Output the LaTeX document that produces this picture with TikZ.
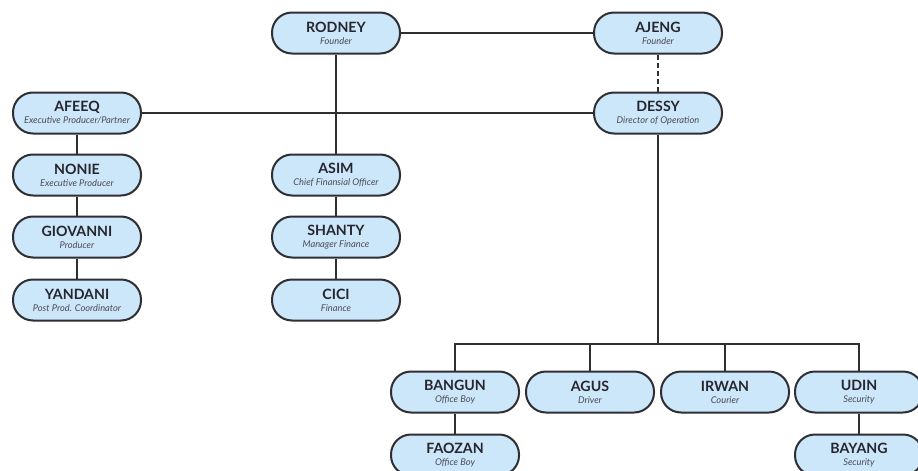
\documentclass[tikz,border=0pt]{standalone}
\usepackage{fontspec}
\setmainfont{Lato}
\definecolor{boxfill}{HTML}{CDE7FA}
\definecolor{boxline}{HTML}{2E2E33}
\definecolor{nametxt}{HTML}{26262E}
\definecolor{subtxt}{HTML}{4A4A55}
\tikzset{
  person/.style={draw=boxline, line width=2pt, fill=boxfill, rounded corners=20pt,
    minimum width=128pt, minimum height=41pt, inner sep=0pt, align=center},
  link/.style={draw=boxline, line width=2pt},
  dlink/.style={draw=boxline, line width=2pt, dash pattern=on 5pt off 3pt},
}
\newcommand{\pbox}[2]{{\fontsize{14.2}{15}\selectfont\bfseries\color{nametxt}#1}\\[0pt]{\fontsize{9.3}{10}\selectfont\itshape\color{subtxt}#2}}
\begin{document}
\begin{tikzpicture}[x=1pt,y=-1pt]
\path[use as bounding box, clip] (0,0) rectangle (918,471);
\fill[white] (0,0) rectangle (918,471);
% nodes
\node[person] (rodney) at (336,33) {\pbox{RODNEY}{Founder}};
\node[person] (ajeng) at (658,33) {\pbox{AJENG}{Founder}};
\node[person] (dessy) at (658,113) {\pbox{DESSY}{Director of Operation}};
\node[person] (afeeq) at (77,113) {\pbox{AFEEQ}{Executive Producer/Partner}};
\node[person] (nonie) at (77,175) {\pbox{NONIE}{Executive Producer}};
\node[person] (giovanni) at (77,237) {\pbox{GIOVANNI}{Producer}};
\node[person] (yandani) at (77,300) {\pbox{YANDANI}{Post Prod. Coordinator}};
\node[person] (asim) at (336,175) {\pbox{ASIM}{Chief Finansial Officer}};
\node[person] (shanty) at (336,237) {\pbox{SHANTY}{Manager Finance}};
\node[person] (cici) at (336,300) {\pbox{CICI}{Finance}};
\node[person] (bangun) at (455,392) {\pbox{BANGUN}{Office Boy}};
\node[person] (agus) at (590,392) {\pbox{AGUS}{Driver}};
\node[person] (irwan) at (725,392) {\pbox{IRWAN}{Courier}};
\node[person] (udin) at (859,392) {\pbox{UDIN}{Security}};
\node[person] (faozan) at (455,455) {\pbox{FAOZAN}{Office Boy}};
\node[person] (bayang) at (859,455) {\pbox{BAYANG}{Security}};
% connectors
\coordinate (bus) at (658,343.5);
\draw[link] (rodney) -- (ajeng);
\draw[dlink] (ajeng) -- (dessy);
\draw[link] (afeeq) -- (dessy);
\draw[link] (rodney) -- (asim);
\draw[link] (asim) -- (shanty);
\draw[link] (shanty) -- (cici);
\draw[link] (afeeq) -- (nonie);
\draw[link] (nonie) -- (giovanni);
\draw[link] (giovanni) -- (yandani);
\draw[link] (dessy) -- (bus);
\draw[link] (bangun.north) |- (bus) -| (udin.north);
\draw[link] (agus.north) -- (agus.north |- bus);
\draw[link] (irwan.north) -- (irwan.north |- bus);
\draw[link] (bangun) -- (faozan);
\draw[link] (udin) -- (bayang);
\end{tikzpicture}
\end{document}
